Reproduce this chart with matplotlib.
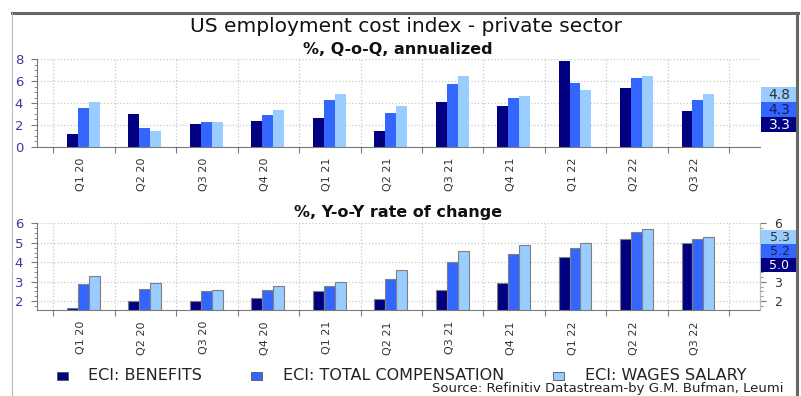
import numpy as np
import matplotlib
matplotlib.use('Agg')
import matplotlib.pyplot as plt
from matplotlib.patches import Rectangle
from matplotlib.lines import Line2D
from matplotlib.ticker import MultipleLocator

plt.rcParams['font.family'] = ['DejaVu Sans']

# ECI, private sector
quarters = ['Q1 20', 'Q2 20', 'Q3 20', 'Q4 20', 'Q1 21', 'Q2 21',
            'Q3 21', 'Q4 21', 'Q1 22', 'Q2 22', 'Q3 22']
series_names = ['ECI: BENEFITS', 'ECI: TOTAL COMPENSATION', 'ECI: WAGES SALARY']

qoq_benefits = [1.2, 3.0, 2.05, 2.35, 2.65, 1.4, 4.05, 3.7, 7.8, 5.35, 3.3]
qoq_total = [3.5, 1.7, 2.3, 2.9, 4.3, 3.1, 5.7, 4.45, 5.8, 6.3, 4.3]
qoq_wages = [4.1, 1.4, 2.3, 3.4, 4.8, 3.7, 6.45, 4.65, 5.2, 6.5, 4.8]

yoy_benefits = [1.65, 2.0, 2.0, 2.15, 2.5, 2.1, 2.6, 2.95, 4.25, 5.2, 5.0]
yoy_total = [2.9, 2.65, 2.5, 2.6, 2.8, 3.15, 4.0, 4.4, 4.75, 5.55, 5.2]
yoy_wages = [3.3, 2.95, 2.6, 2.8, 3.0, 3.6, 4.6, 4.9, 5.0, 5.7, 5.3]

# right-hand scale of the Y-o-Y panel; 4 and 5 sit behind the value tags
yoy_right_ticks = [2, 3, 4, 5, 6]
yoy_right_labels = ['2', '3', '', '', '6']

colors = ['#000080', '#3366ff', '#99ccff']
box_text = ['white', '#1a1a55', '#333333']
grid_c = '#c8c8c8'
spine_c = '#7a7a7a'

W, H = 801, 396
fig = plt.figure(figsize=(W / 100, H / 100), dpi=100)

ax1 = fig.add_axes([37 / W, 1 - 146.7 / H, 723 / W, 87.4 / H])
ax2 = fig.add_axes([37 / W, 1 - 310 / H, 723 / W, 86.7 / H])

x = np.arange(len(quarters))
bw = 0.178


def style_axis(ax, ylim, major, minor):
    ax.set_xlim(-0.765, 11.0)
    ax.set_ylim(*ylim)
    ax.set_xticks(np.arange(-0.5, 11, 1))
    ax.set_xticklabels([])
    ax.set_xticks(x - 0.05, minor=True)
    ax.set_xticklabels(quarters, minor=True, rotation=90, fontsize=8,
                       color='#333333')
    ax.tick_params(axis='x', which='major', length=4, color=spine_c)
    ax.tick_params(axis='x', which='minor', length=0, pad=8)
    ax.yaxis.set_major_locator(MultipleLocator(major))
    ax.yaxis.set_minor_locator(MultipleLocator(minor))
    ax.tick_params(axis='y', which='major', length=4, color=spine_c,
                   labelsize=9.5, labelcolor='#3a3a9a', pad=6)
    ax.tick_params(axis='y', which='minor', length=2, color=spine_c)
    ax.grid(True, which='major', linestyle=':', color=grid_c, lw=0.9)
    ax.set_axisbelow(True)
    for s in ['top', 'right']:
        ax.spines[s].set_visible(False)
    for s in ['left', 'bottom']:
        ax.spines[s].set_color(spine_c)


def value_boxes(ax, values, box_h, size):
    # stacked value tags right of the plot, highest value on top
    order = np.argsort(values)[::-1]
    y_top = ax.transData.transform((0, values[order[0]]))[1] + box_h / 2
    x0 = ax.transAxes.transform((1, 0))[0] + 1
    for k, i in enumerate(order):
        yb = y_top - (k + 1) * box_h
        fx, fy = fig.transFigure.inverted().transform((x0, yb))
        fw, fh = 37 / W, box_h / H
        fig.add_artist(Rectangle((fx, fy), fw, fh, transform=fig.transFigure,
                                 facecolor=colors[i], edgecolor='none'))
        fig.text(fx + fw / 2, fy + fh / 2 - 0.5 / H, f'{values[i]:.1f}',
                 ha='center', va='center', fontsize=size, color=box_text[i])


# Q-o-Q panel
for k, vals in enumerate([qoq_benefits, qoq_total, qoq_wages]):
    ax1.bar(x + (k - 1) * bw - 0.01, vals, bw, color=colors[k], lw=0)
style_axis(ax1, (0, 8), 2, 0.5)
value_boxes(ax1, [qoq_benefits[-1], qoq_total[-1], qoq_wages[-1]], 15, 10)

# Y-o-Y panel
for k, vals in enumerate([yoy_benefits, yoy_total, yoy_wages]):
    ax2.bar(x + (k - 1) * bw - 0.01, vals, bw, color=colors[k],
            edgecolor='#808080', lw=0.8)
style_axis(ax2, (1.55, 6), 1, 0.25)
ax2.spines['right'].set_visible(True)
ax2.spines['right'].set_color('#bbbbbb')
ax2r = ax2.twinx()
ax2r.set_ylim(1.55, 6)
ax2r.set_yticks(yoy_right_ticks, yoy_right_labels)
ax2r.yaxis.set_minor_locator(MultipleLocator(0.25))
ax2r.tick_params(axis='y', which='major', length=4, color=spine_c,
                 labelsize=9, labelcolor='#333333', pad=6)
ax2r.tick_params(axis='y', which='minor', length=2, color=spine_c)
for s in ['top', 'left', 'bottom']:
    ax2r.spines[s].set_visible(False)
ax2r.spines['right'].set_color('#bbbbbb')
value_boxes(ax2, [yoy_benefits[-1], yoy_total[-1], yoy_wages[-1]], 14, 9)

# titles
fig.text(406 / W, 1 - 26 / H, 'US employment cost index - private sector',
         ha='center', va='center', fontsize=14.5, color='#111111')
fig.text(398 / W, 1 - 49.5 / H, '%, Q-o-Q, annualized', ha='center',
         va='center', fontsize=11.5, fontweight='bold', color='#111111')
fig.text(398 / W, 1 - 213 / H, '%, Y-o-Y rate of change', ha='center',
         va='center', fontsize=11.5, fontweight='bold', color='#111111')

# legend
leg_sq = [57, 251, 553]
leg_tx = [88, 283, 585]
for k, name in enumerate(series_names):
    fig.add_artist(Rectangle((leg_sq[k] / W, 1 - 380 / H), 11 / W, 8.5 / H,
                             transform=fig.transFigure, facecolor=colors[k],
                             edgecolor='#555555', lw=0.6))
    fig.text(leg_tx[k] / W, 1 - 376 / H, name, ha='left', va='center',
             fontsize=11.5, color='#222222')

fig.text(783 / W, 1 - 388.5 / H,
         'Source: Refinitiv Datastream-by G.M. Bufman, Leumi',
         ha='right', va='center', fontsize=9.5, color='#222222')

# frame
fig.add_artist(Line2D([12 / W, 798 / W], [1 - 13 / H, 1 - 13 / H],
                      transform=fig.transFigure, color='#666666', lw=2.2))
fig.add_artist(Line2D([12 / W, 12 / W], [0, 1 - 13 / H],
                      transform=fig.transFigure, color='#bbbbbb', lw=0.8))
fig.add_artist(Line2D([797 / W, 797 / W], [0, 1 - 13 / H],
                      transform=fig.transFigure, color='#666666', lw=2.2))

fig.savefig('out.png', dpi=100)
